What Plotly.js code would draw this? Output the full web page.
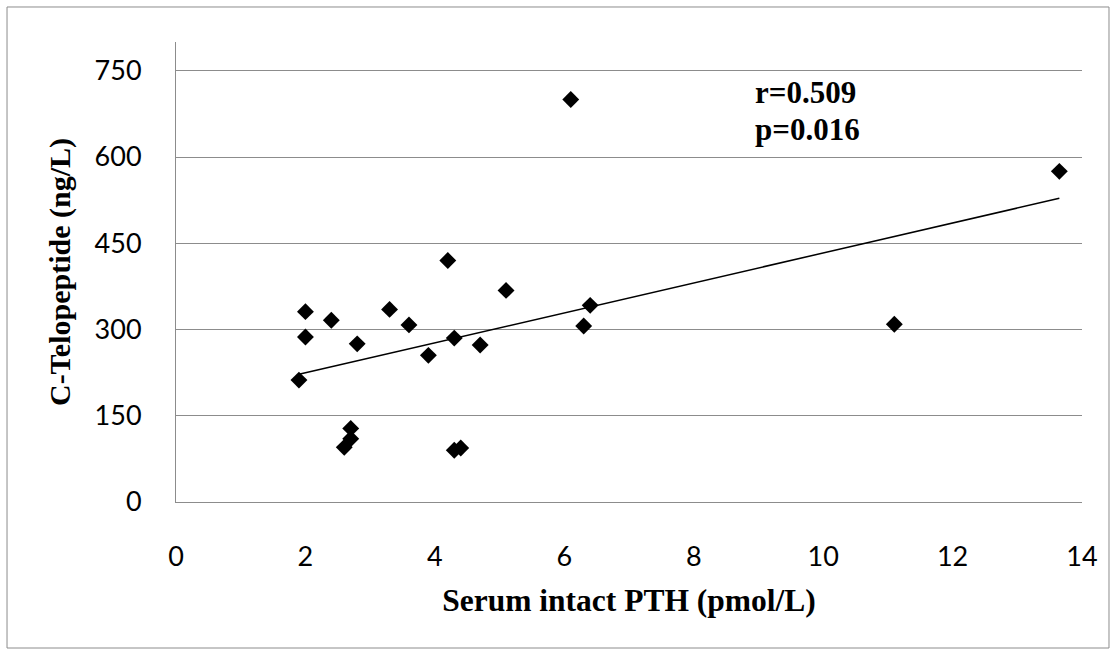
<!DOCTYPE html>
<html>
<head>
<meta charset="utf-8">
<script src="https://cdn.plot.ly/plotly-3.0.1.min.js"></script>
<style>
html,body{margin:0;padding:0;background:#fff;}
#chart{width:1116px;height:656px;}
</style>
</head>
<body>
<div id="chart"></div>
<script>
// Data
const pthValues = [2.0, 2.0, 2.4, 1.9, 2.8, 3.3, 3.6, 4.2, 3.9, 4.3, 4.7, 5.1, 2.7, 2.7, 2.6, 4.3, 4.4, 6.1, 6.4, 6.3, 13.65, 11.1];
const ctxValues = [331, 287, 316, 212, 275, 335, 308, 420, 255, 285, 273, 368, 128, 110, 95, 90, 94, 700, 342, 306, 575, 309];
const yTickValues = [0, 150, 300, 450, 600, 750];
const xTickValues = [0, 2, 4, 6, 8, 10, 12, 14];
const statLines = ["r=0.509", "p=0.016"];

// Linear least-squares trend line computed from the data
const n = pthValues.length;
const mx = pthValues.reduce((a, b) => a + b, 0) / n;
const my = ctxValues.reduce((a, b) => a + b, 0) / n;
let sxy = 0, sxx = 0;
for (let i = 0; i < n; i++) {
  sxy += (pthValues[i] - mx) * (ctxValues[i] - my);
  sxx += (pthValues[i] - mx) * (pthValues[i] - mx);
}
const slope = sxy / sxx;
const intercept = my - slope * mx;
const xMin = Math.min(...pthValues), xMax = Math.max(...pthValues);

const pts = {
  type: 'scatter', mode: 'markers',
  x: pthValues, y: ctxValues,
  marker: {symbol: 'diamond', size: 13, color: '#000000'},
  showlegend: false, hoverinfo: 'x+y'
};
const trend = {
  type: 'scatter', mode: 'lines',
  x: [xMin, xMax], y: [intercept + slope * xMin, intercept + slope * xMax],
  line: {color: '#000000', width: 1.5},
  showlegend: false, hoverinfo: 'skip'
};

const gridGray = '#8c8c8c';
const layout = {
  width: 1116, height: 656,
  margin: {l: 176, r: 34, t: 42, b: 154, pad: 0},
  paper_bgcolor: '#ffffff', plot_bgcolor: '#ffffff',
  showlegend: false,
  xaxis: {
    range: [0, 14], tickvals: xTickValues, ticktext: xTickValues.map(String),
    showgrid: false, zeroline: false,
    showline: true, linecolor: gridGray, linewidth: 1,
    ticks: 'outside', ticklen: 31, tickcolor: 'rgba(0,0,0,0)',
    tickfont: {family: 'Lato, sans-serif', size: 27, color: '#000'},
    title: {text: '<b>Serum intact PTH (pmol/L)</b>', standoff: 17,
            font: {family: 'Liberation Serif, Times New Roman, serif', size: 31.5, color: '#000'}}
  },
  yaxis: {
    range: [0, 800], tickvals: yTickValues, ticktext: yTickValues.map(String),
    showgrid: true, gridcolor: gridGray, gridwidth: 1,
    zeroline: false,
    showline: true, linecolor: gridGray, linewidth: 1,
    ticks: 'outside', ticklen: 28, tickcolor: 'rgba(0,0,0,0)',
    tickfont: {family: 'Lato, sans-serif', size: 27, color: '#000'},
    title: {text: '<b>C-Telopeptide (ng/L)</b>', standoff: 15,
            font: {family: 'Liberation Serif, Times New Roman, serif', size: 30, color: '#000'}}
  },
  annotations: [
    {xref: 'paper', yref: 'paper', x: 0.637, y: 0.891, xanchor: 'left', yanchor: 'middle',
     text: '<b>' + statLines[0] + '</b>', showarrow: false,
     font: {family: 'Liberation Serif, Times New Roman, serif', size: 31, color: '#000'}},
    {xref: 'paper', yref: 'paper', x: 0.637, y: 0.809, xanchor: 'left', yanchor: 'middle',
     text: '<b>' + statLines[1] + '</b>', showarrow: false,
     font: {family: 'Liberation Serif, Times New Roman, serif', size: 31, color: '#000'}}
  ],
  shapes: [
    {type: 'rect', xref: 'paper', yref: 'paper',
     x0: -0.1865, x1: 1.0298, y0: -0.3174, y1: 1.0761,
     line: {color: '#8c8c8c', width: 1}, fillcolor: 'rgba(0,0,0,0)', layer: 'below'}
  ]
};

Plotly.newPlot('chart', [trend, pts], layout, {displayModeBar: false, staticPlot: true});
</script>
</body>
</html>
